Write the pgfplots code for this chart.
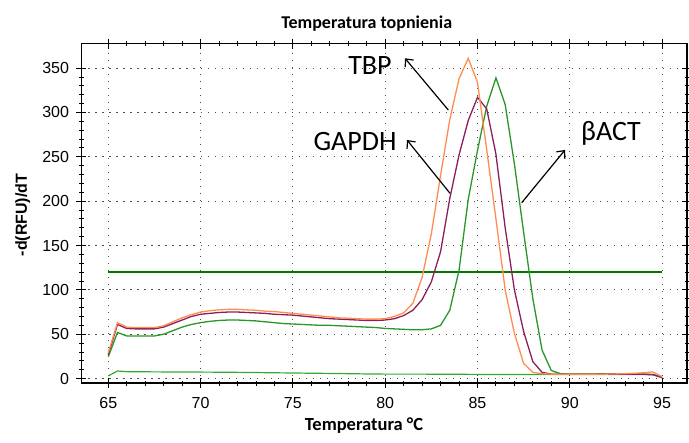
\documentclass[border=0pt]{standalone}
\usepackage{pgfplots}
\pgfplotsset{compat=1.18}
\usepackage{fontspec}
\setmainfont{Liberation Sans}
\newfontfamily\carlito{Carlito}
\usetikzlibrary{arrows.meta}
\definecolor{cOrange}{RGB}{255,140,80}
\definecolor{cPurple}{RGB}{140,30,90}
\definecolor{cGreen}{RGB}{40,150,40}
\definecolor{cThresh}{RGB}{0,120,0}
\definecolor{cBase}{RGB}{50,170,50}
\begin{document}
\begin{tikzpicture}
\useasboundingbox (-81.5bp,-60bp) rectangle (607.5bp,383bp);
\begin{axis}[
  at={(0,0)}, anchor=south west,
  scale only axis, width=605.5bp, height=339.3bp,
  xmin=63.55, xmax=96.35, ymin=-5, ymax=377.5,
  xtick={65,70,...,95}, ytick={0,50,...,350},
  minor x tick num=4, minor y tick num=4,
  tick align=center,
  major tick length=10bp, minor tick length=5bp,
  every tick/.style={black, line width=0.9bp},
  axis line style={black, line width=1.3bp},
  grid=major,
  major grid style={black!70, line width=0.9bp, dash pattern=on 1.2bp off 5.8bp},
  /pgf/number format/assume math mode=true,
  ticklabel style={font=\fontsize{16bp}{18bp}\selectfont},
  xticklabel style={yshift=-6bp},
  yticklabel style={xshift=-4bp},
  clip=false,
]
% baseline (light green)
\addplot[cBase, line width=1.2bp] coordinates {
(65,3) (65.5,8.5) (66,7.8) (67,7.6) (68,7.5) (69,7.5) (70,7.3) (71,7.2) (72,7) (73,6.8) (74,6.5) (75,6.3) (76,6) (77,5.8) (78,5.5) (79,5.2) (80,5) (82,5) (84,4.8) (86,4.6) (88,4.5) (90,4.5) (92,4.7) (94,4.5) (94.5,4.3) (95,1.5)};
% threshold
\addplot[cThresh, line width=2.4bp] coordinates {(65,120) (95,120)};
% beta-actin (green)
\addplot[cGreen, line width=1.3bp] coordinates {
(65,24.6) (65.5,52) (66,48) (66.5,48) (67,48) (67.5,48) (68,50) (68.5,54) (69,58) (69.5,61) (70,63) (70.5,64.5) (71,65.5) (71.5,66) (72,66) (72.5,65.5) (73,65) (73.5,64) (74,63) (74.5,62) (75,61.5) (75.5,61) (76,60.5) (76.5,60) (77,60) (77.5,59.5) (78,59) (78.5,58.5) (79,58) (79.5,57.5) (80,56.5) (80.5,56) (81,55.5) (81.5,55) (82,55) (82.5,56) (83,60) (83.5,77) (84,122) (84.5,202) (85,257) (85.5,307) (86,339) (86.5,309) (87,242) (87.5,165) (88,90) (88.5,32) (89,9) (89.5,5.5) (90,5) (91,5) (92,5.5) (93,5) (94,4.8) (94.5,4.5) (95,1.5)};
% GAPDH (purple)
\addplot[cPurple, line width=1.3bp] coordinates {
(65,27) (65.5,61) (66,56.5) (66.5,56) (67,56) (67.5,56) (68,58) (68.5,62) (69,66) (69.5,70) (70,72.5) (70.5,73.5) (71,74.5) (71.5,75) (72,75) (72.5,74.5) (73,74) (73.5,73.5) (74,72.5) (74.5,72) (75,71.5) (75.5,70.5) (76,69.5) (76.5,68.5) (77,67.5) (77.5,67) (78,66.5) (78.5,66) (79,65.5) (79.5,65.5) (80,66) (80.5,67.5) (81,71) (81.5,77) (82,89) (82.5,109) (83,143) (83.5,203) (84,252) (84.5,291) (85,317) (85.5,304) (86,253) (86.5,170) (87,100) (87.5,53) (88,19) (88.5,7) (89,5) (90,4.8) (91,4.8) (92,5) (93,5) (94,5) (94.5,4.5) (95,1)};
% TBP (orange)
\addplot[cOrange, line width=1.3bp] coordinates {
(65,29) (65.5,63) (66,58) (66.5,57.5) (67,57.5) (67.5,57.5) (68,59.5) (68.5,64) (69,68.5) (69.5,72) (70,75) (70.5,76.5) (71,77.5) (71.5,78) (72,78) (72.5,77.5) (73,77) (73.5,76) (74,75.5) (74.5,74.5) (75,73.5) (75.5,72.5) (76,71.5) (76.5,70.5) (77,69.5) (77.5,68.5) (78,68) (78.5,67.5) (79,67) (79.5,67) (80,67.5) (80.5,70) (81,74) (81.5,85) (82,114) (82.5,163) (83,229) (83.5,292) (84,338) (84.5,361) (85,334) (85.5,258) (86,180) (86.5,100) (87,51) (87.5,17) (88,7) (88.5,5.5) (89,5) (90,4.8) (91,4.8) (92,5) (93,5.5) (94,6.5) (94.5,7.5) (95,2)};
\end{axis}
% titles and labels
\node[font=\carlito\bfseries\fontsize{18bp}{20bp}\selectfont] at (285.2bp,359.2bp) {Temperatura topnienia};
\node[font=\carlito\bfseries\fontsize{18.5bp}{20bp}\selectfont] at (282.5bp,-43bp) {Temperatura °C};
\node[rotate=90, font=\bfseries\fontsize{16bp}{18bp}\selectfont] at (-58.8bp,168bp) {-d(RFU)/dT};
% annotations
\node[font=\carlito\fontsize{28bp}{30bp}\selectfont] at (288.5bp,317bp) {TBP};
\node[font=\carlito\fontsize{28bp}{30bp}\selectfont] at (273.5bp,241bp) {GAPDH};
\node[font=\carlito\fontsize{28bp}{30bp}\selectfont] at (529.5bp,250bp) {βACT};
\draw[black, line width=1.2bp, -{Straight Barb[length=6bp,width=11bp]}] (366.8bp,273bp) -- (323.5bp,324.7bp);
\draw[black, line width=1.2bp, -{Straight Barb[length=6bp,width=11bp]}] (368.5bp,189.7bp) -- (325.5bp,243bp);
\draw[black, line width=1.2bp, -{Straight Barb[length=6bp,width=11bp]}] (440.2bp,180.3bp) -- (483.5bp,233bp);
\end{tikzpicture}
\end{document}
